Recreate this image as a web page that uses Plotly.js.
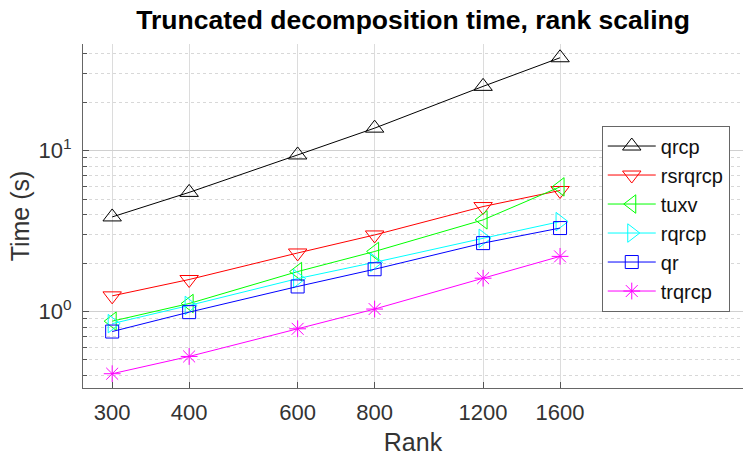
<!DOCTYPE html>
<html>
<head>
<meta charset="utf-8">
<script src="https://cdn.plot.ly/plotly-3.0.1.min.js"></script>
<style>html,body{margin:0;padding:0;background:#fff;}#chart{width:743px;height:460px;}</style>
</head>
<body>
<div id="chart"></div>
<script>
// Data
const rank = [300, 400, 600, 800, 1200, 1600];
const qrcp    = [3.87, 5.5, 9.4, 13.8, 25.1, 37.8];
const rsrqrcp = [1.25, 1.58, 2.31, 2.99, 4.49, 5.65];
const tuxv    = [0.87, 1.12, 1.77, 2.36, 3.71, 5.95];
const rqrcp   = [0.84, 1.09, 1.60, 2.02, 2.85, 3.62];
const qr      = [0.75, 0.99, 1.43, 1.83, 2.66, 3.30];
const trqrcp  = [0.41, 0.525, 0.78, 1.035, 1.61, 2.20];

const seriesNames = ['qrcp', 'rsrqrcp', 'tuxv', 'rqrcp', 'qr', 'trqrcp'];
const seriesData = [qrcp, rsrqrcp, tuxv, rqrcp, qr, trqrcp];
const colors = ['#000000', '#ff0000', '#00ff00', '#00ffff', '#0000ff', '#ff00ff'];
const symbols = ['triangle-up-open', 'triangle-down-open', 'triangle-left-open', 'triangle-right-open', 'square-open', 'asterisk-open'];
const sizes = [16, 16, 16, 16, 13, 14];

const yTickVals = [1, 10];
const yTickText = ['10<sup>0</sup>', '10<sup>1</sup>'];
const yMinorVals = [0.4, 0.5, 0.6, 0.7, 0.8, 0.9, 2, 3, 4, 5, 6, 7, 8, 9, 20, 30, 40];

const traces = seriesNames.map((n, i) => ({
  x: rank, y: seriesData[i], name: n, type: 'scatter', mode: 'lines+markers',
  line: {color: colors[i], width: 1},
  marker: {symbol: symbols[i], size: sizes[i], color: colors[i], line: {width: 1, color: colors[i]}}
}));

const font = 'Liberation Sans, Arial, sans-serif';
const layout = {
  width: 743, height: 460,
  margin: {l: 83, r: 0, t: 44, b: 72},
  paper_bgcolor: '#fff', plot_bgcolor: '#fff',
  font: {family: font, color: '#333', size: 22},
  title: {text: '<b>Truncated decomposition time, rank scaling</b>', font: {family: font, size: 26.5, color: '#000'},
          x: 0.556, xanchor: 'center', xref: 'container', y: 0.958, yanchor: 'middle', yref: 'container'},
  xaxis: {
    type: 'log', range: [Math.log10(269), Math.log10(3170)],
    tickmode: 'array', tickvals: rank, ticktext: rank.map(String),
    ticks: 'inside', ticklen: 6, tickcolor: '#555', tickwidth: 1,
    showline: true, linecolor: '#666', linewidth: 1, mirror: false,
    showgrid: true, gridcolor: '#dcdcdc', gridwidth: 1, zeroline: false,
    tickfont: {size: 22, color: '#333'}, ticklabelstandoff: 5,
    title: {text: 'Rank', font: {size: 25, color: '#333'}, standoff: 9},
    automargin: false
  },
  yaxis: {
    type: 'log', range: [-0.476, 1.663],
    tickmode: 'array', tickvals: yTickVals, ticktext: yTickText,
    ticks: 'inside', ticklen: 6, tickcolor: '#555', tickwidth: 1,
    showline: true, linecolor: '#666', linewidth: 1, mirror: false,
    showgrid: true, gridcolor: '#d0d0d0', gridwidth: 1, zeroline: false,
    minor: {tickmode: 'array', tickvals: yMinorVals, ticks: 'inside', ticklen: 4, tickcolor: '#555',
            showgrid: true, gridcolor: '#d8d8d8', griddash: 'dot', gridwidth: 1},
    tickfont: {size: 22, color: '#333'}, ticklabelstandoff: 6,
    title: {text: 'Time (s)', font: {size: 25, color: '#333'}, standoff: 1},
    automargin: false
  },
  legend: {
    x: 0.786, y: 0.763, xanchor: 'left', yanchor: 'top',
    bgcolor: '#fff', bordercolor: '#666', borderwidth: 1,
    font: {size: 20, color: '#111'}, itemwidth: 48, tracegroupgap: 0
  },
  showlegend: true
};

Plotly.newPlot('chart', traces, layout, {displayModeBar: false, staticPlot: true});
</script>
</body>
</html>
